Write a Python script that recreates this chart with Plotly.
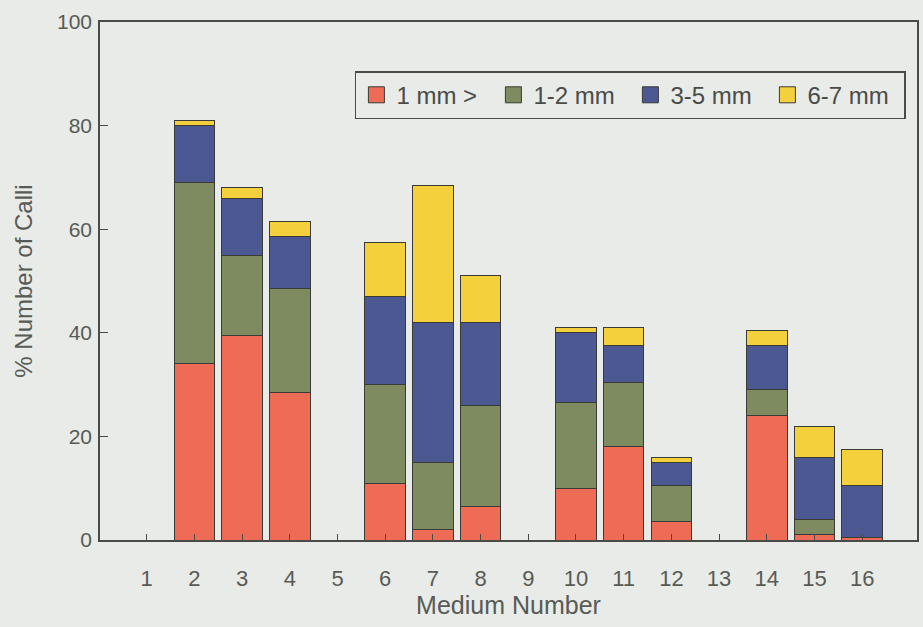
import plotly.graph_objects as go

# Medium numbers on the x axis
media = list(range(1, 17))
tick_labels = [str(m) for m in media]

# Percentage of calli in each size class per medium (stacked)
lt_1mm = [0, 34, 39.5, 28.5, 0, 11, 2, 6.5, 0, 10, 18, 3.5, 0, 24, 1, 0.5]
mm_1_2 = [0, 35, 15.5, 20, 0, 19, 13, 19.5, 0, 16.5, 12.5, 7, 0, 5, 3, 0]
mm_3_5 = [0, 11, 11, 10, 0, 17, 27, 16, 0, 13.5, 7, 4.5, 0, 8.5, 12, 10]
mm_6_7 = [0, 1, 2, 3, 0, 10.5, 26.5, 9, 0, 1, 3.5, 1, 0, 3, 6, 7]

series = [
    ("1 mm >", lt_1mm, "#EE6B55"),
    ("1-2 mm", mm_1_2, "#7E8B60"),
    ("3-5 mm", mm_3_5, "#4C5892"),
    ("6-7 mm", mm_6_7, "#F4D13C"),
]

edge = "#3a3a36"
fig = go.Figure()
for name, vals, color in series:
    fig.add_trace(go.Bar(
        x=media, y=vals, name=name, width=0.85, showlegend=False,
        marker=dict(color=color, line=dict(color=edge, width=1)),
    ))
    # square swatch used for the legend entry
    fig.add_trace(go.Scatter(
        x=[None], y=[None], mode="markers", name=name,
        marker=dict(symbol="square", size=22, color=color, line=dict(color=edge, width=1)),
    ))

font_family = "Liberation Sans, Arial, sans-serif"
text_color = "#585a56"
bg = "#E8EBE7"

fig.update_layout(
    width=923, height=627,
    barmode="stack",
    paper_bgcolor=bg, plot_bgcolor=bg,
    margin=dict(l=100, r=6, t=22, b=87, autoexpand=False),
    font=dict(family=font_family, color=text_color, size=20),
    showlegend=True,
    legend=dict(
        orientation="h", x=0.312, y=0.905, xanchor="left", yanchor="top",
        bgcolor=bg, bordercolor="#4a4a46", borderwidth=1.5,
        font=dict(size=24, color="#4a4a48", family=font_family),
        traceorder="normal", itemwidth=30, itemsizing="trace",
        entrywidth=92, tracegroupgap=0,
    ),
    xaxis=dict(
        range=[0.02, 17.15], tickmode="array", tickvals=media, ticktext=tick_labels,
        showgrid=False, zeroline=False, showline=True, mirror=True,
        linecolor="#4a4a46", linewidth=1.5,
        ticks="inside", ticklen=6, tickcolor="#4a4a46",
        tickfont=dict(size=22, color=text_color), ticklabelstandoff=18,
        title=dict(text="Medium Number", font=dict(size=25, color=text_color), standoff=4),
    ),
    yaxis=dict(
        range=[0, 100], tickvals=[0, 20, 40, 60, 80, 100],
        showgrid=False, zeroline=False, showline=True, mirror=True,
        linecolor="#4a4a46", linewidth=1.5,
        ticks="inside", ticklen=8, tickcolor="#4a4a46",
        tickfont=dict(size=21, color=text_color), ticklabelstandoff=2,
        title=dict(text="% Number of Calli", font=dict(size=24, color=text_color), standoff=18),
    ),
)

fig.write_html("out.html")
